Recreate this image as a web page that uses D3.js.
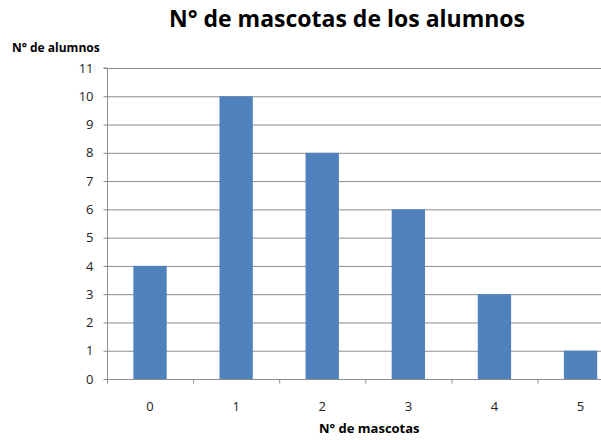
<!DOCTYPE html>
<html><head><meta charset="utf-8">
<script src="https://cdn.jsdelivr.net/npm/d3@7"></script>
<style>body{margin:0;background:#fff}svg{display:block}text{font-family:"Open Sans",sans-serif}</style>
</head><body>
<script>
const categories = ["0","1","2","3","4","5"];
const values = [4,10,8,6,3,1];
const yTicks = [0,1,2,3,4,5,6,7,8,9,10,11];

const W=601,H=440;
const svg=d3.select("body").append("svg").attr("width",W).attr("height",H);
const pLeft=107, pTop=68, pBottom=379, bandW=86.1;
const x=d3.scaleBand().domain(categories).range([pLeft,pLeft+bandW*categories.length]).paddingInner(0.613).paddingOuter(0.3065);
const y=d3.scaleLinear().domain([0,11]).range([pBottom,pTop]);

// gridlines
svg.append("g").selectAll("line").data(yTicks).join("line")
  .attr("x1",pLeft).attr("x2",pLeft+bandW*6).attr("y1",d=>y(d)+0.5).attr("y2",d=>y(d)+0.5)
  .attr("stroke","#8c8c8c").attr("stroke-width",1);

// bars
svg.append("g").selectAll("rect").data(values).join("rect")
  .attr("x",(d,i)=>x(categories[i])).attr("width",x.bandwidth())
  .attr("y",d=>y(d)).attr("height",d=>pBottom-y(d)).attr("fill","#4f81bd");

// y axis
const ya=svg.append("g").attr("transform",`translate(${pLeft+0.5},0)`).call(d3.axisLeft(y).tickValues(yTicks).tickSize(4).tickPadding(10));
ya.select(".domain").attr("stroke","#8c8c8c").attr("d",`M-4,${pTop}H0V${pBottom+4}`);
ya.selectAll(".tick line").attr("stroke","#8c8c8c");
ya.selectAll(".tick text").attr("font-size",13).attr("fill","#222").attr("font-family","Open Sans");

// x axis
const xb=d3.scaleLinear().domain([0,6]).range([pLeft,pLeft+bandW*6]);
const xa=svg.append("g").attr("transform",`translate(0,${pBottom+0.5})`);
xa.append("line").attr("x1",pLeft).attr("x2",pLeft+bandW*6).attr("stroke","#8c8c8c");
xa.selectAll("line.t").data(d3.range(0,7)).join("line").attr("class","t")
  .attr("x1",d=>xb(d)+0.5).attr("x2",d=>xb(d)+0.5).attr("y1",0).attr("y2",4).attr("stroke","#8c8c8c");
xa.selectAll("text").data(categories).join("text")
  .attr("x",d=>x(d)+x.bandwidth()/2).attr("y",31).attr("text-anchor","middle")
  .attr("font-size",13).attr("fill","#222").text(d=>d);

// titles
svg.append("text").attr("x",347).attr("y",27).attr("text-anchor","middle")
  .attr("font-size",23).attr("font-weight","bold").attr("fill","#000").text("N° de mascotas de los alumnos");
svg.append("text").attr("x",12).attr("y",52).attr("font-size",12).attr("font-weight","bold").attr("fill","#000").text("N° de alumnos");
svg.append("text").attr("x",319).attr("y",433).attr("font-size",13).attr("font-weight","bold").attr("fill","#000").text("N° de mascotas");
</script>
</body></html>
